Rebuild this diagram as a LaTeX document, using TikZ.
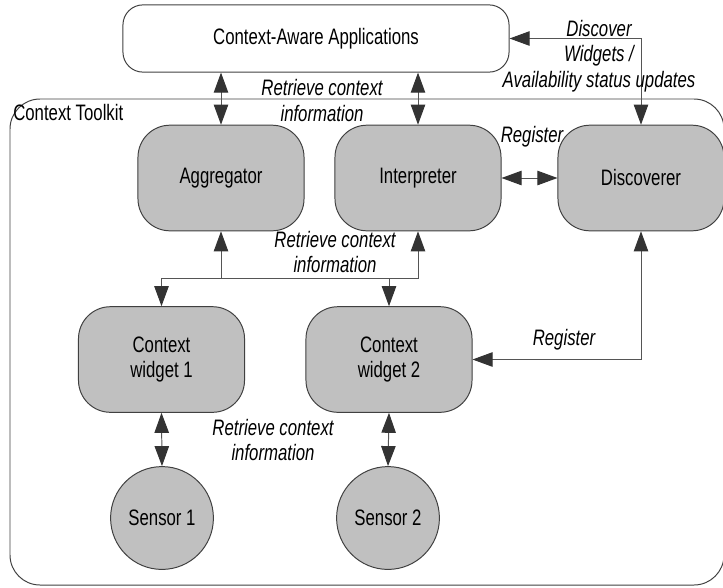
\documentclass[tikz,border=0pt]{standalone}
\usepackage{fontspec}
\setmainfont{Liberation Sans}[FakeStretch=0.75]
\usepackage{tikz}
\usetikzlibrary{arrows.meta}
\definecolor{boxgray}{HTML}{C0C0C0}
\definecolor{edgegray}{HTML}{404040}
\definecolor{linegray}{HTML}{555555}
\definecolor{headgray}{HTML}{333333}

\begin{document}
\begin{tikzpicture}[x=0.025cm,y=-0.025cm,
    every node/.style={font=\fontsize{15.9pt}{18pt}\selectfont},
    part/.style={draw=edgegray,fill=boxgray,line width=0.7pt,rounded corners=0.8cm,minimum width=4.15cm,minimum height=2.64cm,align=center,inner sep=0pt},
    sensor/.style={draw=edgegray,fill=boxgray,line width=0.7pt,circle,minimum size=2.57cm,inner sep=0pt},
    note/.style={font=\fontsize{15.9pt}{18pt}\selectfont\itshape,align=center,inner sep=0pt},
    link/.style={draw=linegray,line width=0.7pt},
    >={Triangle[length=0.5cm,width=0.36cm,color=headgray]}]
      \useasboundingbox (0,0) rectangle (723,587);
      \node[draw=edgegray,line width=0.7pt,rounded corners=0.5cm,minimum width=9.65cm,minimum height=1.68cm] (apps) at (316,38.5) {Context-Aware Applications};
      \draw[edgegray,line width=0.7pt,rounded corners=0.75cm] (10,99) rectangle (724,585);
      \node[anchor=west,inner sep=0pt] (toolkit) at (13,113) {Context Toolkit};
      \node[part] (aggr) at (221,178) {Aggregator};
      \node[part] (interp) at (418,178) {Interpreter};
      \node[part] (disc) at (641,178) {Discoverer};
      \node[part] (cw1) at (161.5,359.5) {Context\\widget 1};
      \node[part] (cw2) at (389,359.5) {Context\\widget 2};
      \node[sensor] (s1) at (162,518) {Sensor 1};
      \node[sensor] (s2) at (388,518) {Sensor 2};
      \coordinate (bus) at (0,278);
      \draw[link,<->] (aggr.north |- apps.south) -- (aggr.north);
      \draw[link,<->] (interp.north |- apps.south) -- (interp.north);
      \draw[link,<->] (apps.east) -| (disc.north);
      \draw[link,<->] (interp.east) -- (disc.west);
      \draw[link,<->] (cw1.north) |- (bus -| interp.south) -- (interp.south);
      \draw[link,->] (aggr.south |- bus) -- (aggr.south);
      \draw[link,->] (cw2.north |- bus) -- (cw2.north);
      \draw[link,<->] (disc.south) |- (cw2.east);
      \draw[link,<->] (cw1.south) -- (s1.north);
      \draw[link,<->] (cw2.south) -- (s2.north);
      \node[note] (retrieveTop) at (322,100.5) {Retrieve context\\information};
      \node[note] (retrieveMid) at (335,252) {Retrieve context\\information};
      \node[note] (retrieveLow) at (273,440) {Retrieve context\\information};
      \node[note] (discoverNote) at (599,56) {Discover\\Widgets /\\Availability status updates};
      \node[note] (registerTop) at (532,137) {Register};
      \node[note] (registerLow) at (564,340) {Register};
    \end{tikzpicture}
\end{document}
